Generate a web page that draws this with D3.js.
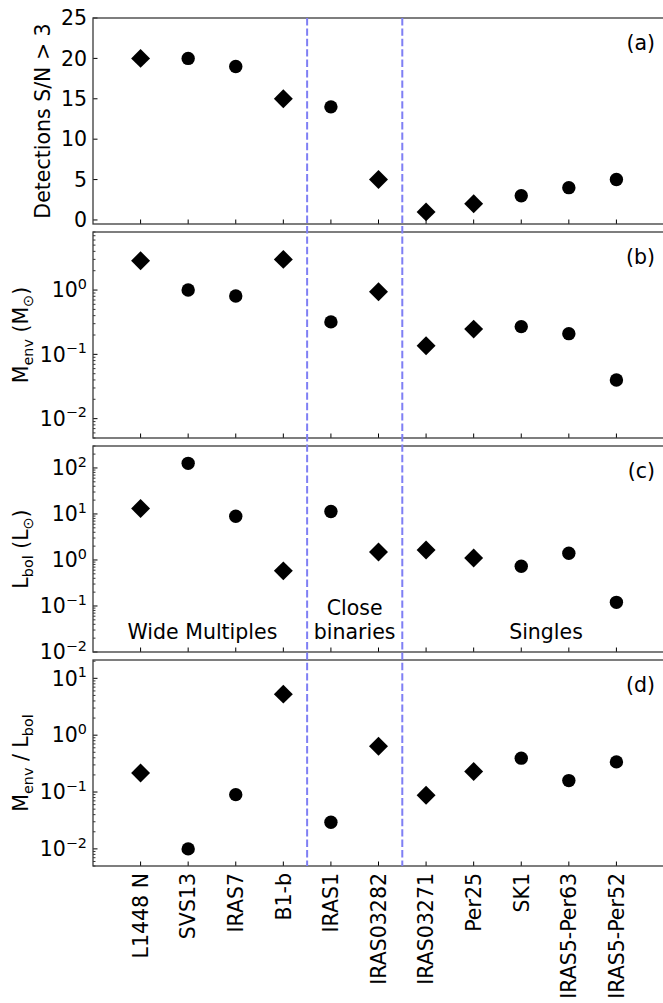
<!DOCTYPE html>
<html>
<head>
<meta charset="utf-8">
<script src="https://cdn.jsdelivr.net/npm/d3@7"></script>
<style>
  body { margin: 0; background: #fff; }
  text { font-family: "DejaVu Sans", sans-serif; fill: #000; }
</style>
</head>
<body>
<div id="chart"></div>
<script>
// Sources along the shared x axis
const sources = ['L1448 N', 'SVS13', 'IRAS7', 'B1-b', 'IRAS1', 'IRAS03282',
  'IRAS03271', 'Per25', 'SK1', 'IRAS5-Per63', 'IRAS5-Per52'];
// true = diamond marker, false = circle
const isDiamond = [true, false, false, true, false, true, true, true, false, false, false];

const detections = [20, 20, 19, 15, 14, 5, 1, 2, 3, 4, 5];
const menv = [2.86, 1.0, 0.81, 3.0, 0.32, 0.94, 0.136, 0.247, 0.27, 0.21, 0.040];
const lbol = [13.2, 126, 8.95, 0.58, 11.3, 1.49, 1.65, 1.1, 0.73, 1.4, 0.12];
const ratio = [0.217, 0.01, 0.09, 5.27, 0.0294, 0.64, 0.088, 0.229, 0.394, 0.159, 0.339];

const detTicks = [0, 5, 10, 15, 20, 25];
const groupBreaks = [3.5, 5.5];

const W = 663, H = 1003;
const LEFT = 93, RIGHT = 664;
const PANEL_TOP = [18, 232, 446, 660];
const PANEL_H = 206;
const FONT = 20.5;
const TICK = 4.5;
const SPINE = '#3a3a3a';

const svg = d3.select('#chart').append('svg')
  .attr('width', W).attr('height', H);

const x = d3.scaleLinear().domain([-1, 11]).range([LEFT, RIGHT]);

const panels = [
  { values: detections, log: false, domain: [-0.5, 25], tag: '(a)', labelX: 50,
    label: [['Detections S/N > 3', false]] },
  { values: menv, log: true, domain: [0.005, 8], tag: '(b)', labelX: 28,
    label: [['M', false], ['env', true], [' (M', false], ['⊙', true], [')', false]] },
  { values: lbol, log: true, domain: [0.01, 300], tag: '(c)', labelX: 28,
    label: [['L', false], ['bol', true], [' (L', false], ['⊙', true], [')', false]] },
  { values: ratio, log: true, domain: [0.005, 21], tag: '(d)', labelX: 28,
    label: [['M', false], ['env', true], [' / L', false], ['bol', true]] }
];

function powLabel(sel, exp) {
  sel.append('tspan').text('10');
  sel.append('tspan')
    .attr('font-size', FONT * 0.7)
    .attr('dy', -FONT * 0.42)
    .text(exp < 0 ? '\u2212' + (-exp) : String(exp));
}

panels.forEach((p, k) => {
  const top = PANEL_TOP[k];
  const bottom = top + PANEL_H;
  const y = (p.log ? d3.scaleLog() : d3.scaleLinear())
    .domain(p.domain).range([bottom, top]);
  const g = svg.append('g');

  // y ticks (inward)
  let majors, minors = [];
  if (p.log) {
    const lo = Math.floor(Math.log10(p.domain[0]));
    const hi = Math.ceil(Math.log10(p.domain[1]));
    majors = d3.range(lo, hi + 1).map(e => Math.pow(10, e))
      .filter(v => v >= p.domain[0] * 0.999 && v <= p.domain[1]);
    d3.range(lo, hi + 1).forEach(e => {
      for (let m = 2; m < 10; m++) {
        const v = m * Math.pow(10, e);
        if (v >= p.domain[0] && v <= p.domain[1]) minors.push(v);
      }
    });
  } else {
    majors = detTicks;
  }

  g.selectAll('.minor').data(minors).join('line')
    .attr('x1', LEFT).attr('x2', LEFT + TICK * 0.55)
    .attr('y1', d => y(d)).attr('y2', d => y(d))
    .attr('stroke', '#000').attr('stroke-width', 0.8);

  g.selectAll('.major').data(majors).join('line')
    .attr('x1', LEFT).attr('x2', LEFT + TICK)
    .attr('y1', d => y(d)).attr('y2', d => y(d))
    .attr('stroke', '#000').attr('stroke-width', 1);

  majors.forEach(v => {
    const t = g.append('text')
      .attr('x', LEFT - 6).attr('y', y(v) + 7.3)
      .attr('text-anchor', 'end').attr('font-size', FONT);
    if (p.log) powLabel(t, Math.round(Math.log10(v)));
    else t.text(v);
  });

  // x ticks at the bottom (inward)
  g.selectAll('.xt').data(sources).join('line')
    .attr('x1', (d, i) => x(i)).attr('x2', (d, i) => x(i))
    .attr('y1', bottom).attr('y2', bottom - TICK)
    .attr('stroke', '#000').attr('stroke-width', 1);

  // frame
  g.append('rect')
    .attr('x', LEFT).attr('y', top)
    .attr('width', RIGHT - LEFT).attr('height', PANEL_H)
    .attr('fill', 'none').attr('stroke', SPINE).attr('stroke-width', 1.3);

  // markers: the diamond is a square of side = circle diameter, turned 45 degrees
  p.values.forEach((v, i) => {
    if (isDiamond[i]) {
      g.append('path')
        .attr('d', d3.symbol(d3.symbolSquare, 13.4 * 13.4)())
        .attr('transform', `translate(${x(i)},${y(v)}) rotate(45)`)
        .attr('fill', '#000');
    } else {
      g.append('circle')
        .attr('cx', x(i)).attr('cy', y(v)).attr('r', 6.7)
        .attr('fill', '#000');
    }
  });

  // y label
  const lab = g.append('text')
    .attr('transform', `translate(${p.labelX},${top + PANEL_H / 2}) rotate(-90)`)
    .attr('text-anchor', 'middle').attr('font-size', FONT);
  let shifted = false;
  p.label.forEach(([s, sub]) => {
    const ts = lab.append('tspan').text(s);
    if (sub && !shifted) { ts.attr('font-size', FONT * 0.7).attr('dy', FONT * 0.22); shifted = true; }
    else if (!sub && shifted) { ts.attr('dy', -FONT * 0.22); shifted = false; }
    else if (sub) ts.attr('font-size', FONT * 0.7);
  });

  // panel tag
  g.append('text')
    .attr('x', 655).attr('y', top + 32)
    .attr('text-anchor', 'end').attr('font-size', FONT)
    .text(p.tag);
});

// group separators, spanning all panels
groupBreaks.forEach(b => {
  svg.append('line')
    .attr('x1', x(b)).attr('x2', x(b))
    .attr('y1', PANEL_TOP[0]).attr('y2', PANEL_TOP[3] + PANEL_H)
    .attr('stroke', '#7f7ff4').attr('stroke-width', 2)
    .attr('stroke-dasharray', '7.4,3');
});

// group names inside panel (c)
const groupNames = [
  { lines: ['Wide Multiples'], at: 1.3 },
  { lines: ['Close', 'binaries'], at: 4.5 },
  { lines: ['Singles'], at: 8.52 }
];
groupNames.forEach(gn => {
  gn.lines.forEach((s, j) => {
    svg.append('text')
      .attr('x', x(gn.at))
      .attr('y', 639 - (gn.lines.length - 1 - j) * 24)
      .attr('text-anchor', 'middle').attr('font-size', FONT)
      .text(s);
  });
});

// source names, rotated under the bottom panel
svg.selectAll('.src').data(sources).join('text')
  .attr('transform', (d, i) => `translate(${x(i) + 7.3},873) rotate(-90)`)
  .attr('text-anchor', 'end').attr('font-size', FONT)
  .text(d => d);
</script>
</body>
</html>
